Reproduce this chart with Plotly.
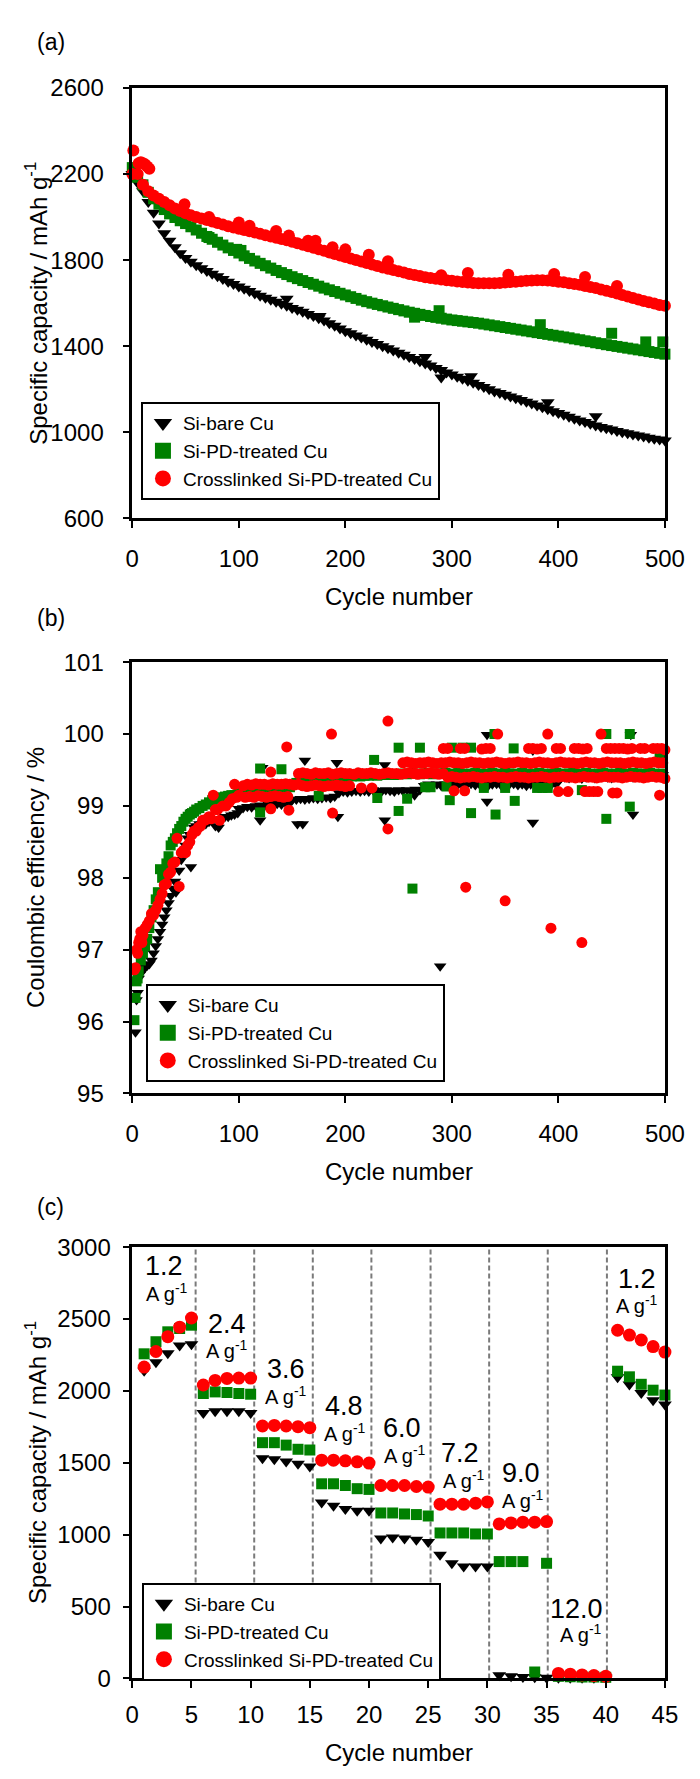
import plotly.graph_objects as go

W, H = 700, 1779

# ---------------- (a) specific capacity, 500 cycles ----------------
cyc_a = list(range(0, 501, 5))
bare_cap = [2200, 2160, 2120, 2070, 2020, 1970, 1925, 1890, 1860, 1832,
            1810, 1792, 1776, 1762, 1750, 1737, 1725, 1712, 1700, 1689,
            1678, 1667, 1656, 1645, 1635, 1625, 1616, 1606, 1597, 1588,
            1578, 1569, 1560, 1550, 1540, 1530, 1520, 1507, 1495, 1482,
            1470, 1460, 1450, 1440, 1430, 1420, 1410, 1400, 1390, 1380,
            1370, 1360, 1350, 1340, 1330, 1320, 1310, 1299, 1289, 1278,
            1268, 1258, 1249, 1240, 1230, 1220, 1210, 1200, 1190, 1182,
            1174, 1166, 1158, 1150, 1142, 1134, 1125, 1116, 1107, 1098,
            1090, 1081, 1072, 1063, 1055, 1048, 1040, 1032, 1025, 1019,
            1013, 1006, 1000, 995, 990, 985, 980, 975, 970, 966, 962]
pd_cap = [2230, 2185, 2150, 2115, 2085, 2060, 2035, 2015, 1998, 1983,
          1970, 1955, 1940, 1925, 1910, 1897, 1883, 1870, 1857, 1845,
          1833, 1820, 1808, 1796, 1785, 1774, 1763, 1752, 1742, 1733,
          1723, 1714, 1705, 1696, 1688, 1679, 1670, 1662, 1654, 1646,
          1638, 1630, 1622, 1614, 1607, 1600, 1594, 1588, 1582, 1576,
          1570, 1564, 1558, 1553, 1548, 1543, 1538, 1534, 1530, 1526,
          1522, 1519, 1516, 1513, 1510, 1507, 1503, 1499, 1495, 1491,
          1487, 1483, 1479, 1475, 1471, 1467, 1463, 1459, 1455, 1451,
          1447, 1443, 1439, 1434, 1430, 1425, 1421, 1416, 1412, 1407,
          1403, 1399, 1395, 1391, 1387, 1383, 1379, 1375, 1371, 1367, 1363]
xl_cap = [2200, 2200, 2150, 2120, 2100, 2085, 2070, 2055, 2040, 2028,
          2018, 2008, 2000, 1993, 1986, 1979, 1972, 1965, 1958, 1952,
          1946, 1940, 1934, 1928, 1922, 1916, 1910, 1904, 1898, 1892,
          1885, 1878, 1871, 1864, 1857, 1850, 1843, 1836, 1829, 1822,
          1815, 1808, 1801, 1794, 1787, 1780, 1773, 1766, 1760, 1754,
          1748, 1742, 1736, 1731, 1726, 1721, 1717, 1713, 1710, 1707,
          1704, 1701, 1698, 1696, 1694, 1693, 1692, 1692, 1693, 1694,
          1696, 1698, 1700, 1702, 1704, 1705, 1706, 1706, 1705, 1703,
          1700, 1697, 1693, 1689, 1685, 1680, 1675, 1670, 1664, 1658,
          1652, 1645, 1638, 1631, 1624, 1617, 1610, 1604, 1598, 1592, 1588]
bare_cap_out_cyc = [145, 176, 275, 290, 318, 390, 435]
bare_cap_out = [1620, 1540, 1350, 1255, 1260, 1140, 1075]
pd_cap_out_cyc = [72, 98, 102, 265, 288, 383, 450, 482, 498]
pd_cap_out = [1905, 1850, 1845, 1535, 1565, 1500, 1460, 1420, 1420]
xl_cap_out_cyc = [1, 6, 8, 10, 12, 14, 16, 49, 72, 100, 110, 135, 147, 165, 172,
                  188, 200, 222, 240, 290, 315, 353, 396, 425, 455]
xl_cap_out = [2310, 2250, 2255, 2250, 2245, 2235, 2225, 2060, 2000, 1975, 1960, 1935,
              1915, 1890, 1890, 1860, 1850, 1825, 1795, 1730, 1740, 1732, 1735, 1722, 1680]

# ---------------- (b) coulombic efficiency ----------------
bare_ce_cyc = ([3, 4, 5, 6, 7, 8, 10, 12, 14, 16, 18, 20, 22, 24, 26, 28, 30, 32, 34, 36, 38, 40,
                41, 44, 46, 48, 50, 52, 54, 55, 56, 58, 60,
                63, 66, 69, 72, 75, 78, 81, 84, 87, 90, 93, 96, 99]
               + list(range(100, 149, 4)) + list(range(150, 191, 4)) + list(range(194, 271, 4))
               + list(range(274, 399, 4)) + list(range(402, 499, 4))
               + [120, 122, 155, 160, 162, 192, 193, 237, 237, 265, 289, 333, 333, 376, 376, 468, 470, 498])
bare_ce = ([95.85, 96.3, 96.4, 96.6, 96.65, 96.7,
            96.72, 96.75, 96.78, 96.8, 96.85, 96.95, 97.05, 97.15, 97.25, 97.35, 97.45, 97.55,
            97.65, 97.75, 97.85, 97.95,
            97.8, 98.1, 98.25, 98.35, 98.45, 98.55, 98.6, 98.15, 98.92, 98.7, 98.72,
            98.75, 98.75, 98.75, 98.78, 98.8, 98.72, 98.7, 98.82, 98.85, 98.85, 98.87, 98.88, 98.9]
           + [98.96, 98.97, 98.99, 98.98, 99.0, 99.01, 99.0, 99.02, 99.01, 99.03, 99.02, 99.04, 99.05]
           + [99.08, 99.09, 99.1, 99.09, 99.1, 99.11, 99.1, 99.11, 99.12, 99.11, 99.13]
           + [99.18, 99.2, 99.19, 99.2, 99.21, 99.2, 99.21, 99.2, 99.22, 99.21,
              99.2, 99.22, 99.21, 99.2, 99.22, 99.21, 99.22, 99.2, 99.23, 99.22]
           + [99.28, 99.3, 99.29, 99.3, 99.28, 99.3, 99.29, 99.31, 99.3, 99.29,
              99.3, 99.31, 99.29, 99.3, 99.3, 99.28, 99.3, 99.31, 99.29, 99.3,
              99.3, 99.31, 99.29, 99.3, 99.28, 99.3, 99.31, 99.3, 99.29, 99.3, 99.31, 99.3]
           + [99.38, 99.4, 99.39, 99.41, 99.4, 99.38, 99.4, 99.41, 99.39, 99.4,
              99.42, 99.4, 99.39, 99.41, 99.4, 99.42, 99.41, 99.4, 99.42, 99.41,
              99.4, 99.43, 99.42, 99.41, 99.43]
           + [98.8, 99.53, 98.75, 98.75, 99.63, 99.6, 98.85, 99.57, 98.8, 99.15, 96.77,
              99.99, 99.06, 99.77, 98.77, 99.99, 98.88, 99.7])

pd_ce_cyc = ([2, 3, 4, 5, 6] + list(range(8, 61, 2)) + list(range(63, 100, 3))
             + list(range(100, 149, 4)) + list(range(150, 251, 4)) + list(range(254, 499, 4))
             + [120, 120, 140, 175, 227, 230, 250, 250, 258, 263, 270, 275, 280, 295, 298, 300,
                310, 318, 318, 330, 340, 341, 350, 358, 359, 380, 385, 390, 422, 445, 445, 467, 467, 495])
pd_ce = ([96.02, 96.33, 96.56, 96.6, 96.7]
         + [96.85, 96.95, 97.05, 97.15, 97.3, 97.45, 97.55, 97.7, 97.8, 98.12, 98.0, 98.1, 98.2,
            98.3, 98.45, 98.5, 98.55, 98.62, 98.68, 98.72, 98.78, 98.82, 98.85, 98.88, 98.9, 98.92, 98.95]
         + [98.97, 99.0, 99.02, 99.05, 99.08, 99.1, 99.1, 99.12, 99.13, 99.14, 99.15, 99.15, 99.16]
         + [99.17, 99.18, 99.2, 99.19, 99.21, 99.2, 99.22, 99.21, 99.23, 99.22, 99.24, 99.25, 99.26]
         + [99.3, 99.32, 99.33, 99.34, 99.35, 99.36, 99.37, 99.37, 99.38, 99.39, 99.39, 99.4, 99.4,
            99.41, 99.41, 99.42, 99.41, 99.42, 99.42, 99.43, 99.42, 99.43, 99.43, 99.44, 99.43, 99.44]
         + [99.45, 99.44, 99.46, 99.45, 99.44, 99.45, 99.46, 99.44, 99.45, 99.45,
            99.46, 99.44, 99.45, 99.46, 99.45, 99.44, 99.45, 99.46, 99.45, 99.44,
            99.45, 99.46, 99.45, 99.44, 99.46, 99.45, 99.45, 99.44, 99.46, 99.45,
            99.44, 99.45, 99.46, 99.45, 99.44, 99.45, 99.46, 99.44, 99.45, 99.45,
            99.46, 99.44, 99.45, 99.46, 99.45, 99.44, 99.45, 99.46, 99.45, 99.44,
            99.45, 99.46, 99.45, 99.44, 99.46, 99.45, 99.45, 99.44, 99.46, 99.45,
            99.44, 99.45]
         + [99.52, 98.91, 99.51, 99.14, 99.64, 99.11, 99.81, 98.93, 99.1, 97.85, 99.81, 99.26,
            99.26, 99.27, 99.08, 99.81, 99.81, 98.9, 99.81, 99.25, 100.0, 98.88, 99.25, 99.8,
            99.07, 99.25, 99.25, 99.25, 99.22, 100.0, 98.82, 100.0, 98.99, 99.7])

xl_ce_cyc = ([2, 3, 4, 5, 6, 7, 8, 9, 10] + list(range(12, 83, 2)) + [85, 88, 91, 94, 96, 98, 100]
             + list(range(104, 157, 4)) + list(range(106, 147, 4)) + list(range(156, 293, 4))
             + list(range(160, 205, 4)) + list(range(254, 499, 4)) + list(range(296, 501, 4))
             + [292, 296, 308, 312, 328, 332, 336, 372, 376, 380, 384, 398, 402, 415, 419,
                423, 427, 445, 449, 453, 457, 461, 465, 469, 477, 481, 489, 493, 497, 500]
             + [302, 312, 400, 409, 425, 429, 433, 437, 451, 455, 495]
             + [130, 130, 145, 147, 187, 188, 215, 225, 240, 240, 313, 343, 350, 390, 393, 422, 440])
xl_ce = ([96.72, 96.75, 97.0, 96.95, 97.1, 97.15, 97.25, 97.1, 97.2]
         + [97.3, 97.35, 97.4, 97.5, 97.48, 97.55, 97.62, 97.7, 97.78, 97.9, 97.92, 98.05, 98.08,
            98.2, 98.22, 98.55, 97.88, 98.35, 98.38, 98.35, 98.45, 98.5, 98.6, 98.65, 98.65, 98.7,
            98.72, 98.8, 98.8, 98.82, 98.85, 98.82, 99.15, 98.95, 98.95, 98.8]
         + [99.0, 99.0, 99.05, 99.1, 99.3, 99.12, 99.15]
         + [99.28, 99.3, 99.29, 99.31, 99.3, 99.3, 99.29, 99.31, 99.3, 99.3, 99.31, 99.3, 99.29, 99.3]
         + [99.12, 99.13, 99.12, 99.14, 99.13, 99.12, 99.13, 99.14, 99.13, 99.12, 99.13]
         + [99.45, 99.46, 99.45, 99.44, 99.46, 99.45, 99.45, 99.46, 99.44, 99.45,
            99.46, 99.45, 99.45, 99.44, 99.46, 99.45, 99.45, 99.46, 99.45, 99.44,
            99.45, 99.46, 99.45, 99.45, 99.44, 99.45, 99.46, 99.45, 99.44, 99.45,
            99.45, 99.46, 99.45, 99.44, 99.45]
         + [99.28, 99.27, 99.28, 99.29, 99.28, 99.27, 99.28, 99.28, 99.29, 99.28, 99.27, 99.28]
         + [99.6, 99.61, 99.6, 99.59, 99.6, 99.6, 99.61, 99.6, 99.59, 99.6,
            99.6, 99.61, 99.6, 99.6, 99.59, 99.6, 99.61, 99.6, 99.6, 99.59,
            99.6, 99.6, 99.61, 99.6, 99.59, 99.6, 99.6, 99.61, 99.6, 99.6,
            99.59, 99.6, 99.61, 99.6, 99.6, 99.59, 99.6, 99.61, 99.6, 99.6,
            99.6, 99.59, 99.6, 99.61, 99.6, 99.6, 99.59, 99.6, 99.61, 99.6,
            99.6, 99.6, 99.59, 99.6, 99.61, 99.6, 99.6, 99.59, 99.6, 99.61,
            99.6, 99.6]
         + [99.4, 99.41, 99.4, 99.39, 99.4, 99.4, 99.41, 99.4, 99.39, 99.4,
            99.4, 99.41, 99.4, 99.4, 99.39, 99.4, 99.41, 99.4, 99.4, 99.39,
            99.4, 99.4, 99.41, 99.4, 99.39, 99.4, 99.4, 99.41, 99.4, 99.4,
            99.39, 99.4, 99.41, 99.4, 99.4, 99.39, 99.4, 99.41, 99.4, 99.4,
            99.4, 99.39, 99.4, 99.41, 99.4, 99.4, 99.39, 99.4, 99.41, 99.4,
            99.4, 99.38]
         + [99.8, 99.8, 99.8, 99.8, 99.79, 99.8, 99.8, 99.8, 99.8, 99.79, 99.8, 99.8, 99.8, 99.8,
            99.8, 99.79, 99.8, 99.8, 99.8, 99.8, 99.8, 99.8, 99.79, 99.8, 99.8, 99.8, 99.8, 99.8,
            99.8, 99.78]
         + [99.21, 99.21, 99.2, 99.2, 99.2, 99.2, 99.2, 99.2, 99.18, 99.18, 99.15]
         + [99.47, 98.96, 99.82, 98.94, 100.0, 98.9, 99.25, 99.25, 100.18, 98.68, 97.87, 100.0,
            97.68, 100.0, 97.3, 97.1, 100.0])

# ---------------- (c) rate capability ----------------
cyc_c = list(range(1, 46))
bare_rate = [2140, 2199, 2262, 2315, 2324, 1847, 1858, 1858, 1858, 1847,
             1532, 1525, 1509, 1493, 1475, 1224, 1201, 1178, 1167, 1167,
             973, 980, 973, 964, 950, 860, 801, 779, 779, 779,
             22, 15, 10, 8, 5, 5, 5, 5, 5, 5,
             2095, 2045, 1985, 1935, 1905]
pd_rate = [2258, 2342, 2411, 2434, 2457, 1982, 1993, 1989, 1982, 1977,
           1640, 1640, 1623, 1594, 1589, 1354, 1354, 1342, 1320, 1315,
           1151, 1151, 1144, 1140, 1130, 1012, 1012, 1012, 1005, 1005,
           813, 813, 813, 45, 801, 15, 12, 10, 10, 8,
           2137, 2098, 2046, 2005, 1971]
xl_rate = [2166, 2274, 2377, 2443, 2507, 2041, 2073, 2087, 2089, 2089,
           1756, 1760, 1756, 1751, 1744, 1518, 1518, 1514, 1507, 1498,
           1342, 1342, 1342, 1335, 1331, 1212, 1212, 1212, 1219, 1228,
           1075, 1082, 1087, 1087, 1091, 35, 30, 25, 20, 15,
           2422, 2388, 2354, 2308, 2270]
rate_labels = ["1.2", "2.4", "3.6", "4.8", "6.0", "7.2", "9.0", "12.0", "1.2"]
rate_bounds = [5.35, 10.3, 15.25, 20.2, 25.2, 30.15, 35.1, 40.1]

names = ["Si-bare Cu", "Si-PD-treated Cu", "Crosslinked Si-PD-treated Cu"]

for a, b in [(bare_ce_cyc, bare_ce), (pd_ce_cyc, pd_ce), (xl_ce_cyc, xl_ce)]:
    if len(a) != len(b):
        raise ValueError("length mismatch %d %d" % (len(a), len(b)))

FONT = "Liberation Sans, Arial, sans-serif"
BLACK, GREEN, RED = "#000000", "#008000", "#ff0000"
SYM = ["triangle-down", "square", "circle"]
COL = [BLACK, GREEN, RED]


def fx(p):
    return p / W


def fy(p):
    return 1 - p / H


fig = go.Figure()

# panel a
sizes_a = [12, 11, 12]
series_a = [(cyc_a + bare_cap_out_cyc, bare_cap + bare_cap_out),
            (cyc_a + pd_cap_out_cyc, pd_cap + pd_cap_out),
            (cyc_a + xl_cap_out_cyc, xl_cap + xl_cap_out)]
for i, (xs, ys) in enumerate(series_a):
    fig.add_trace(go.Scatter(x=xs, y=ys, mode="markers", xaxis="x", yaxis="y",
                             marker=dict(symbol=SYM[i], size=sizes_a[i], color=COL[i], line=dict(width=0)),
                             cliponaxis=False, showlegend=False))

# panel b
sizes_b = [11, 10, 11]
series_b = [(bare_ce_cyc, bare_ce), (pd_ce_cyc, pd_ce), (xl_ce_cyc, xl_ce)]
for i, (xs, ys) in enumerate(series_b):
    fig.add_trace(go.Scatter(x=xs, y=ys, mode="markers", xaxis="x2", yaxis="y2",
                             marker=dict(symbol=SYM[i], size=sizes_b[i], color=COL[i], line=dict(width=0)),
                             cliponaxis=False, showlegend=False))

# panel c
sizes_c = [12, 11, 13]
for i, ys in enumerate([bare_rate, pd_rate, xl_rate]):
    fig.add_trace(go.Scatter(x=cyc_c, y=ys, mode="markers", xaxis="x3", yaxis="y3",
                             marker=dict(symbol=SYM[i], size=sizes_c[i], color=COL[i], line=dict(width=0)),
                             cliponaxis=False, showlegend=False))

# legend entries (bigger symbols, like the original)
for k, (xa, ya, lg) in enumerate([("x", "y", "legend"), ("x2", "y2", "legend2"), ("x3", "y3", "legend3")]):
    for i in range(3):
        fig.add_trace(go.Scatter(x=[None], y=[None], mode="markers", xaxis=xa, yaxis=ya,
                                 marker=dict(symbol=SYM[i], size=16, color=COL[i], line=dict(width=0)),
                                 name=names[i], legend=lg, showlegend=True))

ax = dict(showline=True, linecolor="black", linewidth=2.5, mirror=True,
          ticks="outside", ticklen=7, tickwidth=2, tickcolor="black",
          showgrid=False, zeroline=False, tickfont=dict(size=24, color="black", family=FONT))
xdom = [fx(122), fx(676)]

lay = dict(
    width=W, height=H, margin=dict(l=0, r=0, t=0, b=0),
    paper_bgcolor="white", plot_bgcolor="white",
    font=dict(family=FONT, color="black"),
    xaxis=dict(domain=xdom, range=[0, 500], dtick=100, anchor="y", ticklabelstandoff=10, **ax),
    yaxis=dict(domain=[fy(504), fy(67)], range=[600, 2600], tick0=600, dtick=400, anchor="x",
               ticklabelstandoff=14, **ax),
    xaxis2=dict(domain=xdom, range=[0, 500], dtick=100, anchor="y2", ticklabelstandoff=10, **ax),
    yaxis2=dict(domain=[fy(1088), fy(650)], range=[95, 101], dtick=1, anchor="x2",
                ticklabelstandoff=14, **ax),
    xaxis3=dict(domain=xdom, range=[0, 45], dtick=5, anchor="y3", ticklabelstandoff=6, **ax),
    yaxis3=dict(domain=[fy(1682), fy(1244)], range=[0, 3000], dtick=500, anchor="x3",
                ticklabelstandoff=7, **ax),
)
leg = dict(xanchor="left", yanchor="top", bgcolor="white", bordercolor="black", borderwidth=2,
           font=dict(size=19, family=FONT, color="black"), tracegroupgap=0, itemwidth=30)
lay["legend"] = dict(x=fx(131), y=fy(386), **leg)
lay["legend2"] = dict(x=fx(136), y=fy(977), **leg)
lay["legend3"] = dict(x=fx(132), y=fy(1585), **leg)
fig.update_layout(**lay)

ann = []
for t, yy in [("(a)", 20), ("(b)", 605), ("(c)", 1203)]:
    ann.append(dict(text=t, x=fx(37), y=fy(yy), xref="paper", yref="paper", showarrow=False,
                    xanchor="center", yanchor="middle", font=dict(size=23)))
for yy in [583, 1167, 1757]:
    ann.append(dict(text="Cycle number", x=fx(399), y=fy(yy), xref="paper", yref="paper",
                    showarrow=False, xanchor="center", yanchor="middle", font=dict(size=24)))
for t, yy in [("Specific capacity / mAh g<sup>-1</sup>", 286),
              ("Coulombic efficiency / %", 869),
              ("Specific capacity / mAh g<sup>-1</sup>", 1463)]:
    ann.append(dict(text=t, x=fx(22), y=fy(yy), xref="paper", yref="paper", showarrow=False,
                    textangle=-90, xanchor="center", yanchor="middle", font=dict(size=24)))

# current-density labels in (c): number, then unit below it
num_pos = [(2.68, 2870), (7.96, 2466), (13.0, 2151), (17.87, 1897), (22.75, 1740),
           (27.7, 1569), (32.8, 1432), (37.5, 486), (42.65, 2781)]
unit_pos = [(2.92, 2685), (7.96, 2288), (13.0, 1966), (17.95, 1712), (23.0, 1555),
            (28.0, 1384), (33.0, 1247), (37.9, 315), (42.65, 2603)]
for t, (nx, ny), (ux, uy) in zip(rate_labels, num_pos, unit_pos):
    ann.append(dict(text=t, x=nx, y=ny, xref="x3", yref="y3", showarrow=False,
                    xanchor="center", yanchor="middle", font=dict(size=27)))
    ann.append(dict(text="A g<sup>-1</sup>", x=ux, y=uy, xref="x3", yref="y3", showarrow=False,
                    xanchor="center", yanchor="middle", font=dict(size=20)))
fig.update_layout(annotations=ann)

shapes = []
for b in rate_bounds:
    shapes.append(dict(type="line", xref="x3", yref="y3 domain", x0=b, x1=b, y0=0, y1=1,
                       line=dict(color="#7a7a7a", width=2, dash="5px,3px"), layer="below"))
fig.update_layout(shapes=shapes)

fig.write_html("out.html")
